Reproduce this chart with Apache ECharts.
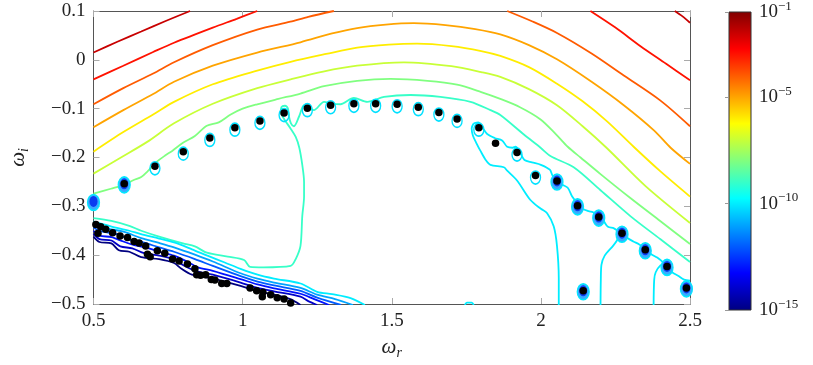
<!DOCTYPE html>
<html>
<head>
<meta charset="utf-8">
</head>
<body style="margin:0;background:#fff">
<div id="chart" style="width:813px;height:365px"></div>
<script src="https://cdn.jsdelivr.net/npm/echarts@6/dist/echarts.min.js"></script>
<script>
// contour lines of the residual, points are [omega_r, omega_i]
var c2a = [[0.5,0.015],[0.58,0.037],[0.66,0.058],[0.74,0.079],[0.824,0.1]];
var c2b = [[2.449,0.1],[2.475,0.089],[2.5,0.076]];
var c3a = [[0.5,-0.04],[0.6,-0.012],[0.7,0.016],[0.77,0.035],[0.9,0.066],[0.98,0.084],[1.049,0.1]];
var c3b = [[2.166,0.1],[2.25,0.066],[2.334,0.028],[2.42,-0.008],[2.5,-0.042]];
var c4a = [[0.5,-0.091],[0.6,-0.058],[0.7,-0.028],[0.77,-0.005],[0.9,0.03],[1.049,0.062],[1.16,0.078],[1.22,0.088],[1.306,0.1]];
var c4b = [[1.887,0.1],[1.97,0.079],[2.054,0.055],[2.17,0.013],[2.278,-0.032],[2.4,-0.083],[2.5,-0.136]];
var c5 = [[0.5,-0.138],[0.6,-0.103],[0.7,-0.07],[0.77,-0.045],[0.9,-0.012],[1.049,0.015],[1.194,0.036],[1.3,0.054],[1.384,0.065],[1.48,0.072],[1.574,0.075],[1.68,0.071],[1.78,0.063],[1.864,0.052],[1.96,0.03],[2.054,0.001],[2.17,-0.045],[2.278,-0.093],[2.38,-0.145],[2.435,-0.18],[2.5,-0.213]];
var c6 = [[0.5,-0.188],[0.6,-0.148],[0.7,-0.112],[0.77,-0.086],[0.9,-0.05],[1.049,-0.022],[1.161,-0.004],[1.28,0.012],[1.384,0.025],[1.49,0.031],[1.585,0.033],[1.7,0.028],[1.8,0.018],[1.864,0.008],[1.96,-0.015],[2.054,-0.049],[2.14,-0.085],[2.222,-0.126],[2.311,-0.178],[2.4,-0.228],[2.5,-0.28]];
var c7 = [[0.5,-0.233],[0.592,-0.2],[0.68,-0.168],[0.77,-0.13],[0.9,-0.09],[1.049,-0.058],[1.161,-0.04],[1.27,-0.024],[1.384,-0.012],[1.541,-0.005],[1.7,-0.013],[1.8,-0.025],[1.864,-0.035],[1.96,-0.06],[2.054,-0.093],[2.14,-0.136],[2.22,-0.18],[2.35,-0.258],[2.5,-0.334]];
var c8 = [[0.5,-0.274],[0.558,-0.264],[0.603,-0.256],[0.635,-0.246],[0.66,-0.24],[0.682,-0.228],[0.71,-0.21],[0.74,-0.196],[0.765,-0.186],[0.8,-0.17],[0.84,-0.156],[0.88,-0.135],[0.92,-0.128],[0.96,-0.112],[1.0,-0.1],[1.049,-0.091],[1.12,-0.08],[1.194,-0.069],[1.273,-0.054],[1.384,-0.043],[1.496,-0.039],[1.62,-0.043],[1.719,-0.051],[1.8,-0.066],[1.864,-0.08],[1.93,-0.097],[1.999,-0.122],[2.05,-0.152],[2.09,-0.178],[2.133,-0.2],[2.2,-0.234],[2.3,-0.283],[2.4,-0.33],[2.5,-0.377]];
var c9 = [[0.5,-0.324],[0.56,-0.33],[0.62,-0.34],[0.66,-0.35],[0.72,-0.362],[0.8,-0.376],[0.84,-0.382],[0.88,-0.395],[0.95,-0.403],[1.005,-0.41],[1.025,-0.424],[1.07,-0.425],[1.161,-0.422],[1.178,-0.408],[1.194,-0.381],[1.2,-0.32],[1.206,-0.28],[1.206,-0.25],[1.2,-0.215],[1.19,-0.18],[1.178,-0.158],[1.16,-0.14],[1.14,-0.122],[1.128,-0.108],[1.13,-0.097],[1.142,-0.094],[1.152,-0.1],[1.155,-0.115],[1.162,-0.13],[1.172,-0.136],[1.19,-0.115],[1.206,-0.093],[1.225,-0.1],[1.239,-0.103],[1.273,-0.086],[1.3,-0.09],[1.328,-0.091],[1.373,-0.078],[1.418,-0.086],[1.474,-0.076],[1.563,-0.072],[1.663,-0.076],[1.764,-0.086],[1.831,-0.103],[1.864,-0.113],[1.943,-0.153],[1.999,-0.18],[2.032,-0.197],[2.11,-0.22],[2.2,-0.267],[2.3,-0.32],[2.4,-0.367],[2.5,-0.414]];
var c10a = [[0.5,-0.331],[0.558,-0.341],[0.62,-0.35],[0.659,-0.357],[0.72,-0.366],[0.77,-0.374],[0.83,-0.388],[0.882,-0.401],[0.94,-0.415],[0.993,-0.428],[1.05,-0.44],[1.105,-0.448],[1.194,-0.458],[1.25,-0.475],[1.3,-0.48],[1.362,-0.488],[1.41,-0.502]];
var c10b = [[1.775,-0.13],[1.79,-0.128],[1.805,-0.14],[1.82,-0.152],[1.845,-0.16],[1.87,-0.165],[1.887,-0.178],[1.905,-0.18],[1.915,-0.178],[1.93,-0.19],[1.945,-0.205],[1.97,-0.21],[2.0,-0.215],[2.03,-0.225],[2.04,-0.238],[2.07,-0.255],[2.09,-0.262],[2.105,-0.28],[2.12,-0.292],[2.14,-0.305],[2.16,-0.31],[2.175,-0.312],[2.185,-0.318],[2.21,-0.33],[2.225,-0.342],[2.245,-0.345],[2.262,-0.352],[2.29,-0.365],[2.31,-0.372],[2.33,-0.378],[2.345,-0.385],[2.37,-0.398],[2.39,-0.405],[2.41,-0.415],[2.44,-0.435],[2.46,-0.442],[2.48,-0.45],[2.5,-0.452]];
var c10c = [[1.775,-0.13],[1.768,-0.14],[1.772,-0.155],[1.785,-0.172],[1.797,-0.186],[1.815,-0.205],[1.831,-0.215],[1.876,-0.22],[1.887,-0.227],[1.92,-0.247],[1.965,-0.287],[2.0,-0.305],[2.021,-0.314],[2.043,-0.341],[2.054,-0.381],[2.06,-0.448],[2.06,-0.502]];
var c10d = [[2.2,-0.502],[2.201,-0.45],[2.203,-0.42],[2.214,-0.401],[2.242,-0.381],[2.255,-0.37],[2.262,-0.36]];
var c10e = [[2.378,-0.502],[2.38,-0.45],[2.385,-0.435],[2.401,-0.421],[2.415,-0.418]];
var c10f = [[1.745,-0.502],[1.752,-0.497],[1.768,-0.497],[1.775,-0.502]];
var c11 = [[0.5,-0.338],[0.54,-0.345],[0.6,-0.352],[0.66,-0.365],[0.72,-0.375],[0.77,-0.384],[0.84,-0.399],[0.9,-0.413],[0.993,-0.437],[1.05,-0.448],[1.105,-0.456],[1.194,-0.467],[1.25,-0.481],[1.31,-0.49],[1.37,-0.502]];
var c12 = [[0.5,-0.344],[0.53,-0.352],[0.58,-0.357],[0.62,-0.368],[0.66,-0.373],[0.72,-0.384],[0.77,-0.393],[0.84,-0.408],[0.9,-0.422],[0.993,-0.443],[1.05,-0.454],[1.105,-0.462],[1.194,-0.473],[1.25,-0.487],[1.33,-0.502]];
var c13 = [[0.5,-0.35],[0.52,-0.36],[0.56,-0.363],[0.6,-0.372],[0.64,-0.38],[0.68,-0.385],[0.72,-0.393],[0.77,-0.401],[0.81,-0.412],[0.85,-0.425],[0.9,-0.432],[0.993,-0.449],[1.05,-0.46],[1.105,-0.468],[1.194,-0.479],[1.24,-0.49],[1.29,-0.502]];
var c14 = [[0.5,-0.356],[0.52,-0.367],[0.56,-0.37],[0.59,-0.382],[0.63,-0.386],[0.67,-0.396],[0.72,-0.401],[0.77,-0.409],[0.8,-0.42],[0.84,-0.432],[0.9,-0.44],[0.993,-0.456],[1.05,-0.467],[1.105,-0.474],[1.194,-0.485],[1.22,-0.494],[1.25,-0.502]];
var c15 = [[0.5,-0.362],[0.52,-0.373],[0.56,-0.376],[0.585,-0.39],[0.62,-0.393],[0.66,-0.404],[0.72,-0.408],[0.77,-0.416],[0.795,-0.428],[0.83,-0.44],[0.9,-0.448],[0.993,-0.463],[1.05,-0.474],[1.105,-0.481],[1.16,-0.49],[1.194,-0.502]];

// eigenvalues (black dots)
var polesRing = [[0.706,-0.218],[0.801,-0.188],[0.89,-0.16],[0.974,-0.139],[1.058,-0.125],[1.139,-0.109],[1.217,-0.099],[1.295,-0.093],[1.373,-0.09],[1.446,-0.09],[1.518,-0.091],[1.589,-0.097],[1.658,-0.108],[1.719,-0.121],[1.792,-0.139],[1.92,-0.19],[1.982,-0.237]];
var polesWell = [[0.603,-0.254],[2.054,-0.248],[2.123,-0.299],[2.194,-0.322],[2.272,-0.355],[2.35,-0.389],[2.423,-0.423],[2.488,-0.467],[2.142,-0.473]];
var polesPlain = [[1.848,-0.171]];
var polesLow = [[0.508,-0.337],[0.524,-0.342],[0.541,-0.347],[0.515,-0.355],[0.564,-0.354],[0.589,-0.361],[0.614,-0.364],[0.636,-0.372],[0.653,-0.375],[0.675,-0.381],[0.681,-0.398],[0.69,-0.403],[0.714,-0.391],[0.739,-0.396],[0.765,-0.408],[0.787,-0.412],[0.815,-0.418],[0.84,-0.428],[0.846,-0.44],[0.859,-0.441],[0.876,-0.44],[0.895,-0.45],[0.907,-0.451],[0.93,-0.458],[0.947,-0.458],[1.025,-0.467],[1.047,-0.473],[1.068,-0.476],[1.066,-0.485],[1.094,-0.481],[1.116,-0.487],[1.139,-0.49],[1.161,-0.498]];
var edgeWell = [[0.5,-0.29]];

var colorTicks = [-15, -10, -5, -1];

function jet(lv) {
  var t = (lv + 15) / 14;
  function f(x) { return Math.round(255 * Math.max(0, Math.min(1, 1.5 - Math.abs(4 * t - x)))); }
  return 'rgb(' + f(3) + ',' + f(2) + ',' + f(1) + ')';
}

var contours = [
  [-2, c2a], [-2, c2b], [-3, c3a], [-3, c3b], [-4, c4a], [-4, c4b],
  [-5, c5], [-6, c6], [-7, c7], [-8, c8], [-9, c9],
  [-10, c10a], [-10, c10b], [-10, c10c], [-10, c10d], [-10, c10e], [-10, c10f],
  [-11, c11], [-12, c12], [-13, c13], [-14, c14], [-15, c15]
];

var font = 'Liberation Serif';
var series = contours.map(function (c) {
  return {
    type: 'line', data: c[1], showSymbol: false, smooth: 0.3, silent: true,
    lineStyle: { color: jet(c[0]), width: 1.8 }, z: 2
  };
});

series.push({
  type: 'scatter', data: polesRing, symbolSize: [10, 13], symbolOffset: [0, 2], z: 3, silent: true,
  itemStyle: { color: 'rgba(255,255,255,0)', borderColor: '#00e0ff', borderWidth: 1.5, opacity: 1 }
});
series.push({
  type: 'scatter', data: polesWell.concat(edgeWell), symbolSize: [12, 16], symbolOffset: [0, 1], z: 3, silent: true,
  itemStyle: { color: '#3aa8ff', borderColor: '#00e8ff', borderWidth: 1.4, opacity: 1 }
});
series.push({
  type: 'scatter', data: polesWell.concat(edgeWell), symbolSize: [8, 11], z: 3, silent: true,
  itemStyle: { color: '#0a3cf0', opacity: 1 }
});
series.push({
  type: 'scatter', data: polesRing.concat(polesWell, polesPlain, polesLow), symbolSize: 7.5, z: 4, silent: true,
  itemStyle: { color: '#000', opacity: 1 }
});
// colour bar needs one series in its grid
series.push({ type: 'scatter', data: [], xAxisIndex: 2, yAxisIndex: 2 });

var tickStyle = { show: true, inside: true, length: 6, lineStyle: { color: '#aaa' } };
var lineStyle = { onZero: false, lineStyle: { color: '#555', width: 1 } };
var labelStyle = { color: '#222', fontFamily: font, fontSize: 19, margin: 8 };
var nameRich = {
  w: { fontFamily: font, fontStyle: 'italic', fontSize: 21, color: '#222', lineHeight: 26 },
  s: { fontFamily: font, fontStyle: 'italic', fontSize: 14, color: '#222', lineHeight: 14, verticalAlign: 'bottom' }
};

var option = {
  animation: false,
  backgroundColor: '#fff',
  textStyle: { fontFamily: font },
  grid: [
    { left: 93, right: 123, top: 11, bottom: 55 },
    {
      left: 729, top: 11, width: 22, height: 299, show: true, borderColor: '#333', borderWidth: 1,
      backgroundColor: new echarts.graphic.LinearGradient(0, 0, 0, 1, [
        { offset: 0, color: '#800000' }, { offset: 0.125, color: '#ff0000' },
        { offset: 0.375, color: '#ffff00' }, { offset: 0.625, color: '#00ffff' },
        { offset: 0.875, color: '#0000ff' }, { offset: 1, color: '#000080' }
      ])
    }
  ],
  xAxis: [
    {
      type: 'value', min: 0.5, max: 2.5, interval: 0.5, gridIndex: 0,
      axisLine: lineStyle, axisTick: tickStyle, splitLine: { show: false },
      axisLabel: labelStyle,
      name: '{w|ω}{s|r}', nameLocation: 'middle', nameGap: 30,
      nameTextStyle: { fontFamily: font, rich: nameRich }
    },
    {
      type: 'value', min: 0.5, max: 2.5, interval: 0.5, gridIndex: 0, position: 'top',
      axisLine: lineStyle, axisTick: tickStyle, axisLabel: { show: false }, splitLine: { show: false }
    },
    { type: 'value', gridIndex: 1, show: false, min: 0, max: 1 }
  ],
  yAxis: [
    {
      type: 'value', min: -0.5, max: 0.1, interval: 0.1, gridIndex: 0,
      axisLine: lineStyle, axisTick: tickStyle, splitLine: { show: false },
      axisLabel: {
        color: '#222', fontFamily: font, fontSize: 19, margin: 8,
        formatter: function (v) { return String(Math.round(v * 10) / 10).replace('-', '−'); }
      },
      name: '{w|ω}{s|i}', nameLocation: 'middle', nameGap: 62, nameRotate: 90,
      nameTextStyle: { fontFamily: font, rich: nameRich }
    },
    {
      type: 'value', min: -0.5, max: 0.1, interval: 0.1, gridIndex: 0, position: 'right',
      axisLine: lineStyle, axisTick: tickStyle, axisLabel: { show: false }, splitLine: { show: false }
    },
    {
      type: 'value', min: -15, max: -1, gridIndex: 1, position: 'right',
      axisLine: { show: false }, splitLine: { show: false },
      axisTick: { show: true, inside: true, length: 4, customValues: colorTicks, lineStyle: { color: '#999' } },
      axisLabel: {
        margin: 8, customValues: colorTicks, fontFamily: font,
        formatter: function (v) { return '{b|10}{e|−' + Math.abs(v) + '}'; },
        rich: {
          b: { fontFamily: font, fontSize: 19, color: '#222', lineHeight: 24 },
          e: { fontFamily: font, fontSize: 13, color: '#222', lineHeight: 13, verticalAlign: 'top' }
        }
      }
    }
  ],
  series: series
};

var chart = echarts.init(document.getElementById('chart'));
chart.setOption(option);
</script>
</body>
</html>
